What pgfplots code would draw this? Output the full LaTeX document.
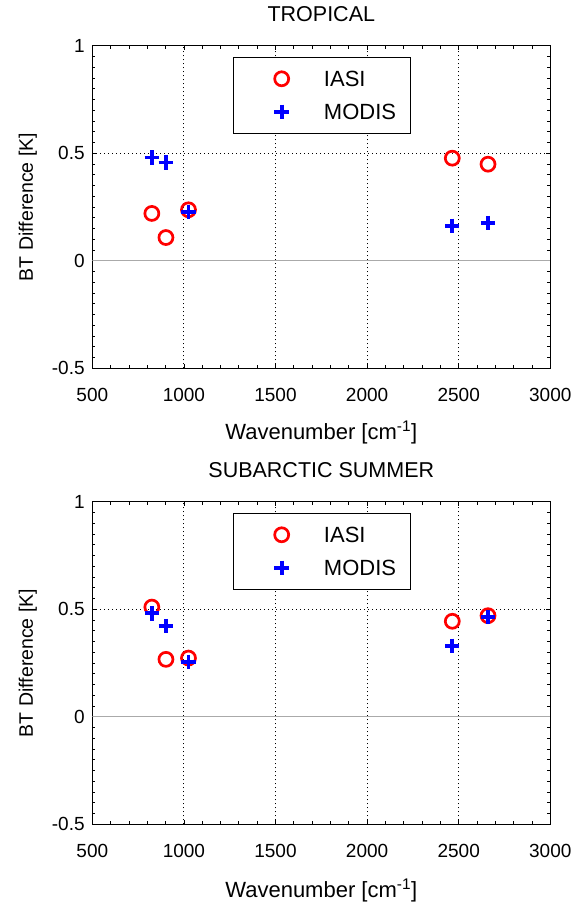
\documentclass[border=0pt]{standalone}
\usepackage{pgfplots}
\pgfplotsset{compat=1.18}
\usepackage{fontspec}
\setmainfont{Liberation Sans}
\definecolor{zerogray}{RGB}{170,170,170}
\pgfplotsset{
  myaxis/.style={
    scale only axis, width=458pt, height=322.6pt,
    xmin=500, xmax=3000, ymin=-0.5, ymax=1,
    xtick={500,1000,1500,2000,2500,3000},
    xticklabels={500,1000,1500,2000,2500,3000},
    ytick={-0.5,0,0.5,1}, yticklabels={-0.5,0,0.5,1},
    minor x tick num=4, minor y tick num=9,
    tick pos=both, tick align=inside,
    major tick length=4pt, minor tick length=3pt,
    tick style={black, line width=0.8pt},
    grid=major,
    major grid style={black, line width=0.9pt, dash pattern=on 1pt off 3pt},
    axis line style={line width=1pt},
    xticklabel style={font=\fontsize{19}{19}\selectfont, anchor=base, yshift=-33pt, inner sep=0pt},
    yticklabel style={font=\fontsize{19}{19}\selectfont, anchor=east, inner sep=0pt, xshift=-7.5pt},
    title style={font=\fontsize{21.5}{22}\selectfont, at={(axis description cs:0.5,1)}, anchor=base, yshift=18pt, inner sep=0pt},
    xlabel={Wavenumber [cm\textsuperscript{-1}]},
    xlabel style={font=\fontsize{22}{22}\selectfont, at={(axis description cs:0.5,0)}, anchor=base, yshift=-71pt, inner sep=0pt},
    ylabel={BT Difference [K]},
    ylabel style={font=\fontsize{19.5}{20}\selectfont, at={(axis description cs:-0.1295,0.5)}, anchor=base, inner sep=0pt},
    legend style={at={(axis description cs:0.3076,0.965)}, anchor=north west, draw=black, line width=1pt, fill=white,
      inner xsep=0pt, inner ysep=4.8pt, row sep=0pt, column sep=0pt,
      nodes={inner sep=0pt, text height=15.8pt, text depth=0pt, font=\fontsize{22}{22}\selectfont, text width=86.7pt, align=left},
      cells={anchor=west}},
    legend image code/.code={\path[draw=none,fill=none] (-48pt,-16.5pt) rectangle (42.3pt,16.5pt); \draw[##1] plot coordinates {(0pt,0pt)};},
  },
  iasi/.style={only marks, mark=o, mark size=7pt, color=red, line width=2.7pt},
  modis/.style={only marks, mark=+, mark size=7.2pt, color=blue, line width=3.7pt},
}
\begin{document}
\begin{tikzpicture}
\path[use as bounding box] (0pt,0pt) rectangle (576pt,904pt);
\begin{axis}[myaxis, at={(92.3pt,535.7pt)}, anchor=south west, title={TROPICAL}]
\addplot[zerogray, line width=1.3pt, forget plot] coordinates {(500,0) (3000,0)};
\addplot[iasi] coordinates {(825,0.220) (902,0.108) (1025,0.237) (2465,0.477) (2660,0.449)};
\addlegendentry{IASI}
\addplot[modis] coordinates {(825,0.480) (902,0.457) (1025,0.226) (2465,0.163) (2660,0.175)};
\addlegendentry{MODIS}
\end{axis}
\begin{axis}[myaxis, at={(92.3pt,79.7pt)}, anchor=south west, title={SUBARCTIC SUMMER}, xlabel style={yshift=-2pt}]
\addplot[zerogray, line width=1.3pt, forget plot] coordinates {(500,0) (3000,0)};
\addplot[iasi] coordinates {(825,0.510) (902,0.267) (1025,0.273) (2465,0.444) (2660,0.470)};
\addlegendentry{IASI}
\addplot[modis] coordinates {(825,0.481) (902,0.422) (1025,0.256) (2465,0.330) (2660,0.465)};
\addlegendentry{MODIS}
\end{axis}
\end{tikzpicture}
\end{document}
